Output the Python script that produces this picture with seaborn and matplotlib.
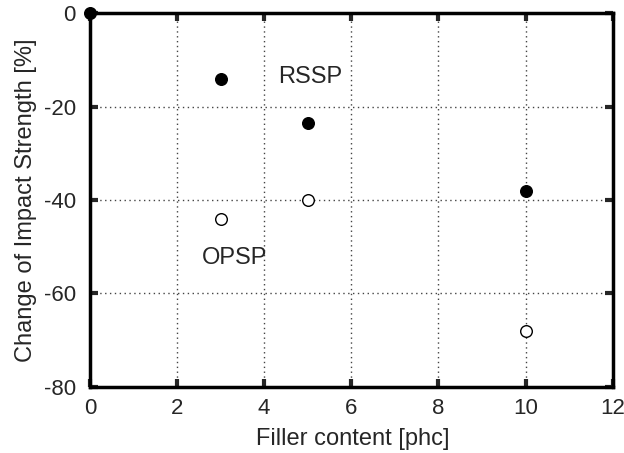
import numpy as np
import pandas as pd
import seaborn as sns
import matplotlib.pyplot as plt

# Data
filler = [0, 3, 5, 10]
rssp = [0, -14, -23.5, -38]
opsp_filler = [3, 5, 10]
opsp = [-44, -40, -68]

sns.set_style("white")
plt.rcParams['font.family'] = ['Liberation Sans', 'DejaVu Sans']
plt.rcParams['font.size'] = 16
plt.rcParams['axes.unicode_minus'] = False

fig = plt.figure(figsize=(6.24, 4.53), dpi=100)
ax = fig.add_axes([0.144, 0.146, 0.838, 0.825])

ax.grid(True, color='#444444', linestyle=(0, (1, 2.5)), linewidth=1.0)
ax.set_axisbelow(True)

sns.scatterplot(x=filler, y=rssp, ax=ax, color='black', edgecolor='black',
                s=70, linewidth=1, zorder=5, clip_on=False)
sns.scatterplot(x=opsp_filler, y=opsp, ax=ax, facecolor='white', edgecolor='black',
                s=70, linewidth=1, zorder=5, clip_on=False)

ax.text(4.31, -13.7, 'RSSP', fontsize=17, va='center', ha='left')
ax.text(2.57, -52.4, 'OPSP', fontsize=17, va='center', ha='left')

ax.set_xlim(0, 12)
ax.set_ylim(-80, 0)
ax.set_xticks(np.arange(0, 13, 2))
ax.set_yticks(np.arange(-80, 1, 20))
ax.tick_params(direction='in', length=6, width=3, top=True, right=True,
               bottom=True, left=True, labelsize=16)
ax.tick_params(axis='x', pad=8)
ax.tick_params(axis='y', pad=10)
for s in ax.spines.values():
    s.set_linewidth(2.5)
    s.set_color('black')

ax.set_xlabel('Filler content [phc]', fontsize=17)
ax.set_ylabel('Change of Impact Strength [%]', fontsize=17)
ax.xaxis.set_label_coords(0.503, -0.11)
ax.yaxis.set_label_coords(-0.101, 0.5)

fig.savefig('out.png', dpi=100)
